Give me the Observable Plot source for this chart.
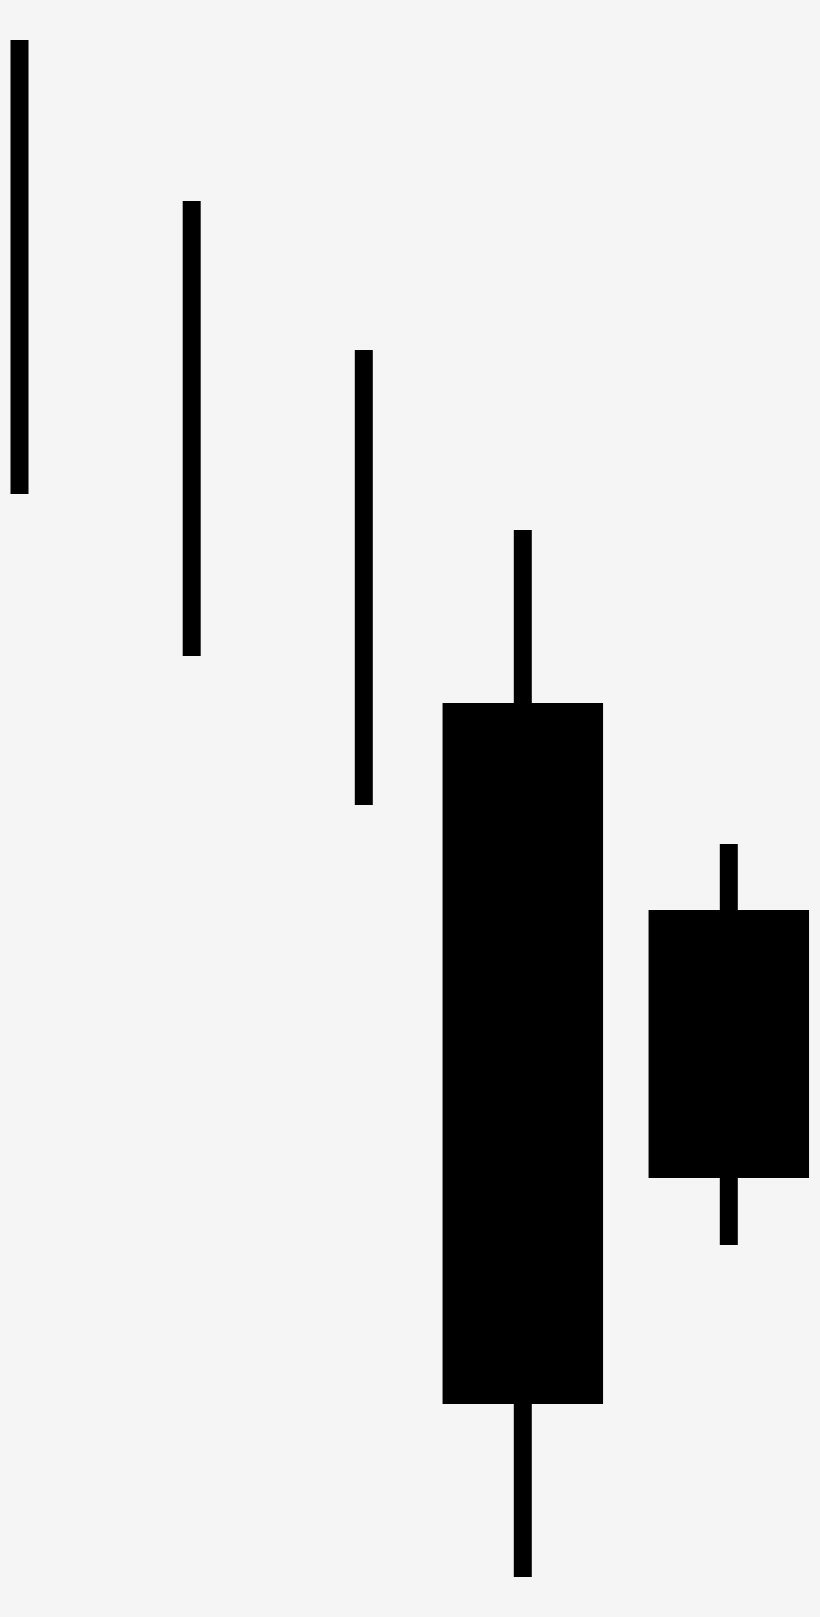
<!DOCTYPE html>
<html>
<head>
<meta charset="utf-8">
<script src="https://cdn.jsdelivr.net/npm/d3@7"></script>
<script src="https://cdn.jsdelivr.net/npm/@observablehq/plot@0.6"></script>
<style>
  html, body { margin: 0; padding: 0; background: #f5f5f5; }
  #chart svg { display: block; }
</style>
</head>
<body>
<div id="chart"></div>
<script>
const positions = [19, 191.2, 363.3, 522.3, 728.3];
const highs = [1577, 1416, 1267, 1087, 773];
const lows = [1123, 961, 812, 40, 372];
const opens = [null, null, null, 914, 707];
const closes = [null, null, null, 213, 439];

const wicks = positions.map((x, i) => ({x, high: highs[i], low: lows[i]}));
const bodies = positions
  .map((x, i) => ({x, open: opens[i], close: closes[i]}))
  .filter(d => d.open != null);

const chart = Plot.plot({
  width: 820,
  height: 1617,
  margin: 0,
  style: {background: "#f5f5f5"},
  x: {domain: [0, 820], axis: null},
  y: {domain: [0, 1617], axis: null},
  marks: [
    Plot.ruleX(wicks, {x: "x", y1: "low", y2: "high", stroke: "black", strokeWidth: 18}),
    Plot.ruleX(bodies, {x: "x", y1: "open", y2: "close", stroke: "black", strokeWidth: 160.5})
  ]
});
document.getElementById("chart").appendChild(chart);
</script>
</body>
</html>
